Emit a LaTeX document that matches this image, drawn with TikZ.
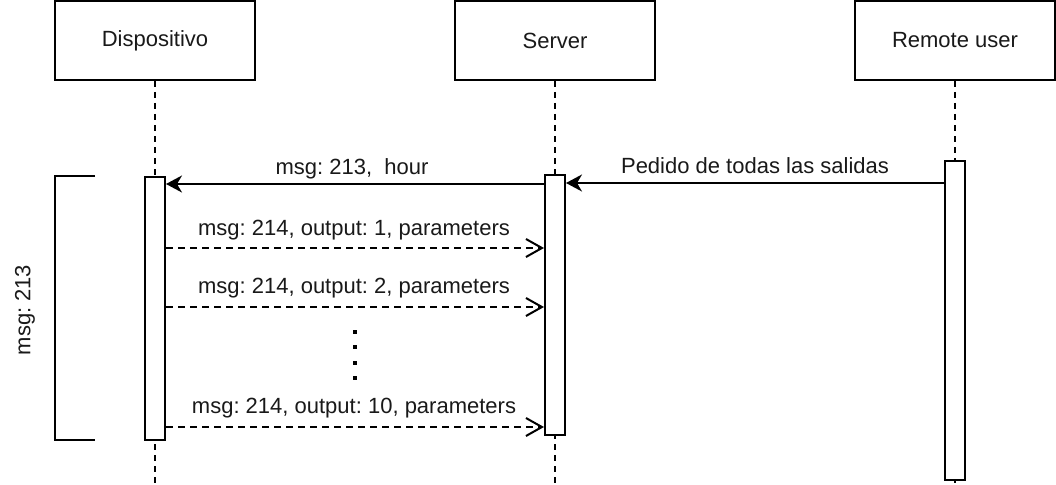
\documentclass[tikz,border=0pt]{standalone}
\usepackage{fontspec}
\setmainfont{Liberation Sans}
\usetikzlibrary{arrows.meta}
\frenchspacing
\begin{document}
\begin{tikzpicture}[x=1pt,y=-1pt,
  every node/.style={font=\fontsize{22}{26}\selectfont\frenchspacing, text=black!90},
  actor/.style={draw, line width=2pt, minimum width=200pt, minimum height=79pt, inner sep=0pt, fill=white},
  bar/.style={draw, line width=2pt, minimum width=20pt, inner sep=0pt, fill=white},
  lifeline/.style={line width=2pt, dash pattern=on 6pt off 5pt},
  syncmsg/.style={line width=2pt, -{Stealth[length=16pt,width=17pt,inset=5pt]}},
  retmsg/.style={line width=2pt, dash pattern=on 7pt off 5pt, -{Straight Barb[length=16pt,width=18pt,line width=2pt]}},
  lbl/.style={inner sep=0pt, anchor=center}]
\useasboundingbox (0,0) rectangle (1056,484);
% actors
\node[actor] (dev) at (155,40.5) {Dispositivo};
\node[actor] (srv) at (555,40.5) {Server};
\node[actor] (usr) at (955,40.5) {Remote user};
% lifeline ends
\coordinate (devend) at (155,484);
\coordinate (srvend) at (555,484);
\coordinate (usrend) at (955,484);
\draw[lifeline] (dev.south) -- (devend);
\draw[lifeline] (srv.south) -- (srvend);
\draw[lifeline] (usr.south) -- (usrend);
% activation bars
\node[bar, minimum height=263pt] (dbar) at (155,308.5) {};
\node[bar, minimum height=260pt] (sbar) at (555,305) {};
\node[bar, minimum height=319pt] (ubar) at (955,320.5) {};
% bracket
\coordinate (bt) at (95,176);
\coordinate (bb) at (95,440);
\draw[line width=2pt] (bt) -- (55,176) -- (55,440) -- (bb);
\node[lbl, rotate=90] (brlbl) at (25,310) {msg: 213};
% sync messages
\draw[syncmsg] (ubar.west |- 0,183) -- (sbar.east |- 0,183);
\node[lbl] (l2) at (755,166) {Pedido de todas las salidas};
\draw[syncmsg] (sbar.west |- 0,184) -- (dbar.east |- 0,184);
\node[lbl] (l1) at (352,169) {msg: 213,\ \ hour};
% return messages
\draw[retmsg] (dbar.east |- 0,248) -- (sbar.west |- 0,248);
\node[lbl] (r1) at (354,230) {msg: 214, output: 1, parameters};
\draw[retmsg] (dbar.east |- 0,307) -- (sbar.west |- 0,307);
\node[lbl] (r2) at (354,288) {msg: 214, output: 2, parameters};
\draw[retmsg] (dbar.east |- 0,427) -- (sbar.west |- 0,427);
\node[lbl] (r3) at (354,408) {msg: 214, output: 10, parameters};
% dots
\foreach \yy in {332,347,363,378} {
  \fill (353,\yy-2) rectangle (357,\yy+2);
}
\end{tikzpicture}
\end{document}
